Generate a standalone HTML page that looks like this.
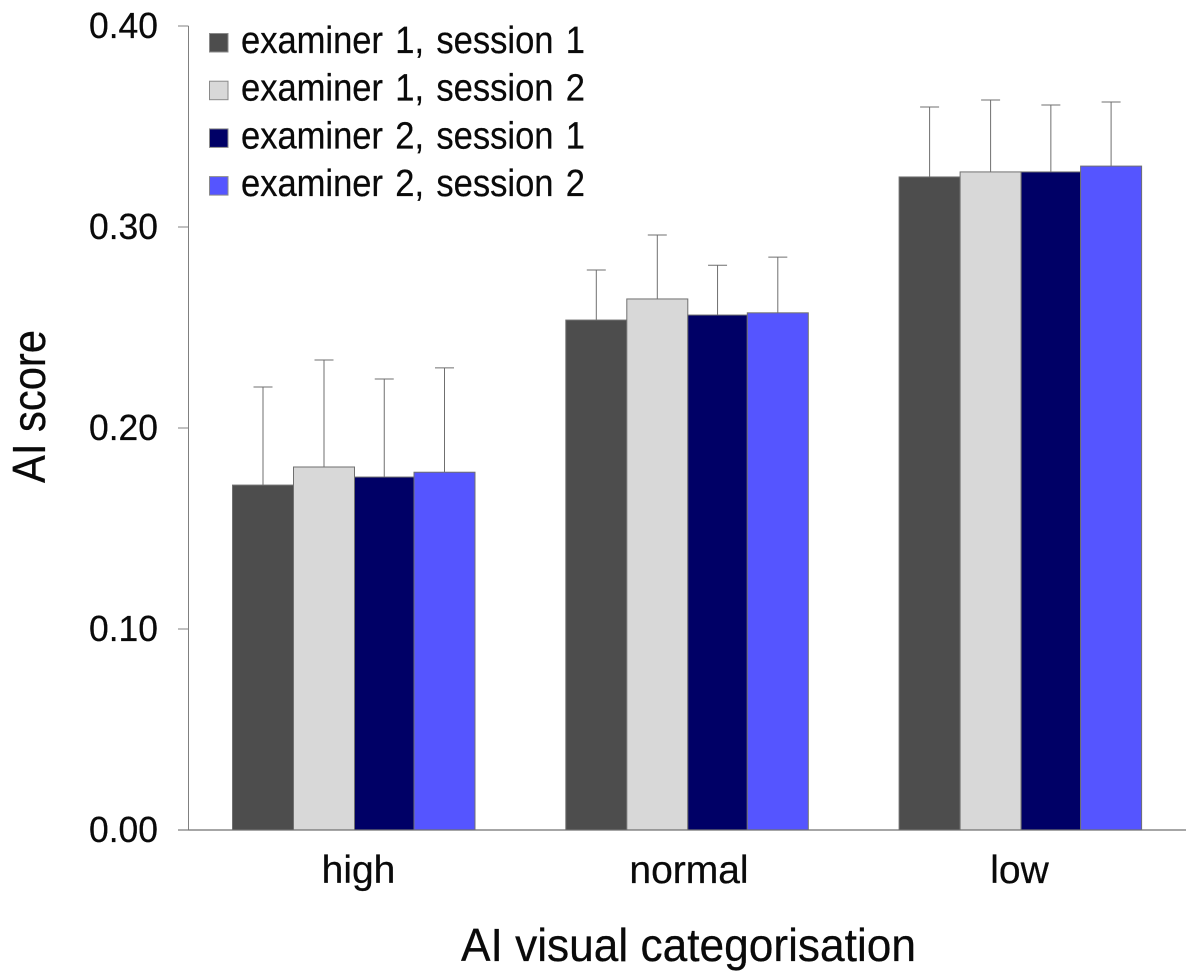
<!DOCTYPE html>
<html lang="en">
<head>
<meta charset="utf-8">
<title>AI score by visual categorisation</title>
<style>
html,body{margin:0;padding:0;background:#fff;}
svg{display:block;}
text{font-family:"Liberation Sans",sans-serif;fill:#0a0a0a;stroke:#0a0a0a;stroke-width:0.25px;}
</style>
</head>
<body>
<svg id="chart" xmlns="http://www.w3.org/2000/svg" width="1200" height="975" viewBox="0 0 1200 975">
  <rect x="0" y="0" width="1200" height="975" fill="#ffffff"/>
  <g id="bars"></g>
  <g id="axes"></g>
  <text transform="translate(45 483) rotate(-90)" font-size="46" textLength="153" lengthAdjust="spacingAndGlyphs">AI score</text>
  <text x="461" y="961" font-size="46" textLength="455" lengthAdjust="spacingAndGlyphs">AI visual categorisation</text>
  <g id="legend"></g>
</svg>
<script>
const categories = ['high', 'normal', 'low'];
const seriesNames = ['examiner 1, session 1', 'examiner 1, session 2', 'examiner 2, session 1', 'examiner 2, session 2'];
const examiner1Session1 = [0.1716, 0.2537, 0.3249];
const examiner1Session2 = [0.1806, 0.2642, 0.3274];
const examiner2Session1 = [0.1756, 0.2562, 0.3274];
const examiner2Session2 = [0.1780, 0.2573, 0.3303];
const examiner1Session1Upper = [0.2204, 0.2786, 0.3597];
const examiner1Session2Upper = [0.2338, 0.2960, 0.3632];
const examiner2Session1Upper = [0.2244, 0.2810, 0.3607];
const examiner2Session2Upper = [0.2299, 0.2850, 0.3622];
const yTickValues = [0, 0.1, 0.2, 0.3, 0.4];
const yTickLabels = ['0.00', '0.10', '0.20', '0.30', '0.40'];

const seriesValues = [examiner1Session1, examiner1Session2, examiner2Session1, examiner2Session2];
const seriesUpper = [examiner1Session1Upper, examiner1Session2Upper, examiner2Session1Upper, examiner2Session2Upper];
const seriesColors = ['#4d4d4d', '#d8d8d8', '#000066', '#5555ff'];
const seriesKeys = ['e1-s1', 'e1-s2', 'e2-s1', 'e2-s2'];

const NS = 'http://www.w3.org/2000/svg';
function yScale(v) { return 830 - v * 2010; }
function barWidth(s) { return s === 2 ? 59.5 : 61; }
function barLeft(i, s) {
  let x = 232.5 + i * 333.3;
  for (let k = 0; k < s; k++) x += barWidth(k);
  return x;
}
function labelCentre(i) { return 358.5 + i * 330.5; }
function make(tag, attrs, parent) {
  const el = document.createElementNS(NS, tag);
  for (const k in attrs) el.setAttribute(k, attrs[k]);
  parent.appendChild(el);
  return el;
}

const barsG = document.getElementById('bars');
const axesG = document.getElementById('axes');
const legendG = document.getElementById('legend');
const errColor = '#6f6f6f';

categories.forEach(function (cat, i) {
  seriesValues.forEach(function (vals, s) {
    const x = barLeft(i, s);
    const w = barWidth(s);
    const cx = x + w / 2;
    const top = yScale(vals[i]);
    const upper = yScale(seriesUpper[s][i]);
    const stem = make('line', {x1: cx, x2: cx, y1: top, y2: upper, stroke: errColor, 'stroke-width': 1}, barsG);
    
    
    const cap = make('line', {x1: cx - 9.5, x2: cx + 9.5, y1: upper, y2: upper, stroke: errColor, 'stroke-width': 1}, barsG);
    
    
    const bar = make('rect', {x: x, y: top, width: w, height: yScale(0) - top, fill: seriesColors[s], stroke: '#707070', 'stroke-width': 1}, barsG);
    
    
  });
  const label = make('text', {x: labelCentre(i), y: 883, 'font-size': 39, 'text-anchor': 'middle'}, axesG);
  
  
  label.textContent = cat;
});

const yAxis = make('line', {x1: 188.5, x2: 188.5, y1: yScale(0.4), y2: yScale(0), stroke: '#808080', 'stroke-width': 1}, axesG);


const xAxis = make('line', {x1: 178, x2: 1186, y1: yScale(0), y2: yScale(0), stroke: '#707070', 'stroke-width': 1.2}, axesG);



yTickValues.forEach(function (v, i) {
  const tick = make('line', {x1: 178, x2: 188.5, y1: yScale(v), y2: yScale(v), stroke: '#808080', 'stroke-width': 1}, axesG);
  
  
  const t = make('text', {x: 89, y: yScale(v) + 12, 'font-size': 36, textLength: 69, lengthAdjust: 'spacingAndGlyphs'}, axesG);
  
  
  t.textContent = yTickLabels[i];
});

seriesNames.forEach(function (name, s) {
  const rowY = 33 + s * 47.7;
  const swatch = make('rect', {x: 209.5, y: rowY + 0.5, width: 18.5, height: 18.5, fill: seriesColors[s], stroke: '#8a8a8a', 'stroke-width': 1}, legendG);
  
  
  const t = make('text', {x: 241, y: rowY + 20, 'font-size': 38, 'word-spacing': 3, textLength: 344, lengthAdjust: 'spacingAndGlyphs'}, legendG);
  
  
  t.textContent = name;
});
</script>
</body>
</html>
